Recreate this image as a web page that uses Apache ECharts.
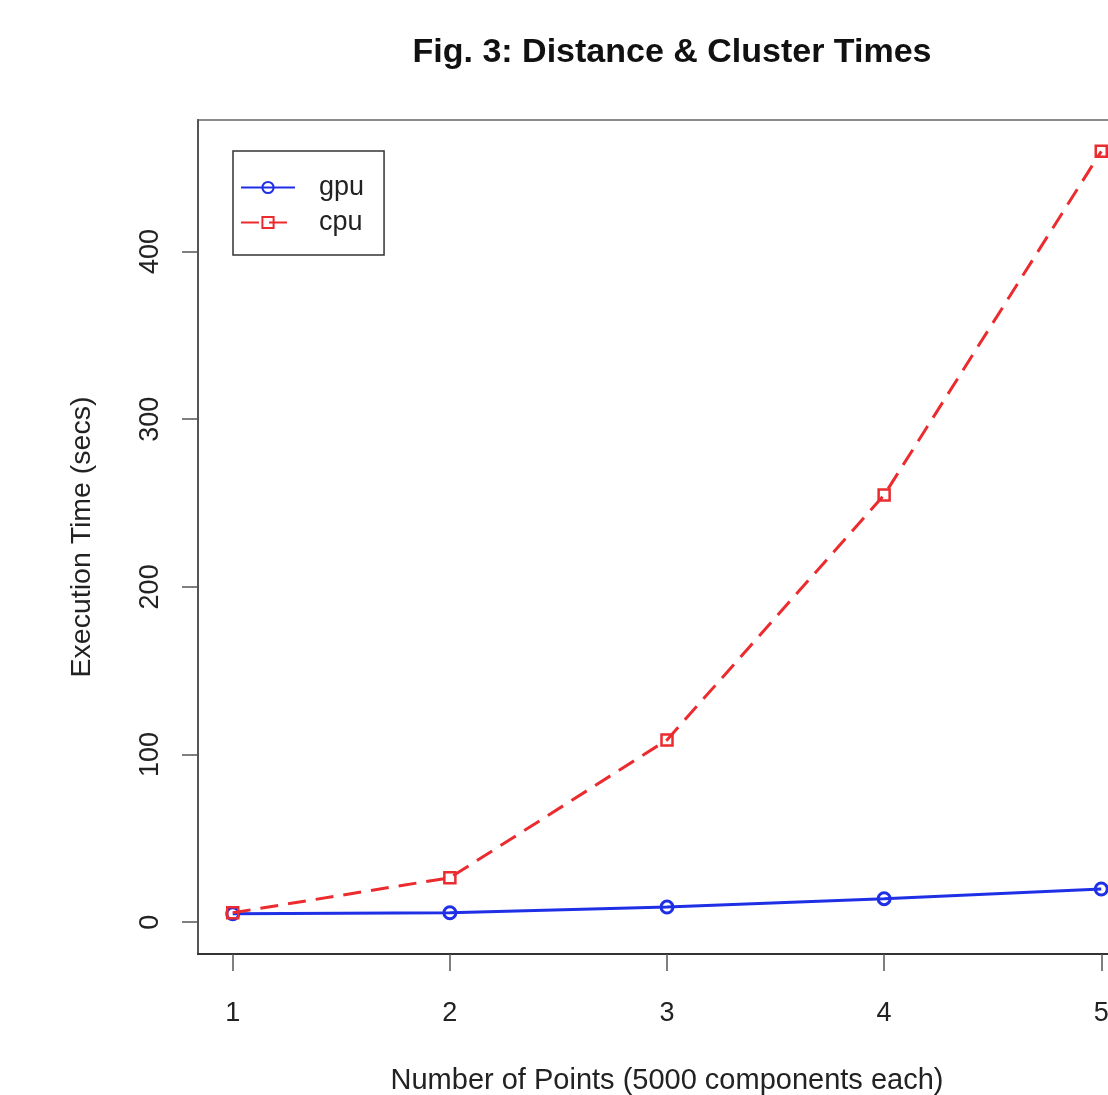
<!DOCTYPE html>
<html>
<head>
<meta charset="utf-8">
<title>Fig. 3: Distance & Cluster Times</title>
<script src="https://cdn.jsdelivr.net/npm/echarts@6/dist/echarts.min.js"></script>
<style>
  html, body { margin: 0; padding: 0; background: #fff; }
  #chart { width: 1108px; height: 1095px; }
</style>
</head>
<body>
<div id="chart"></div>
<script>
// data
var xPoints = [1, 2, 3, 4, 5];
var gpuTimes = [5.0, 5.6, 9.0, 14.0, 19.8];
var cpuTimes = [5.6, 26.5, 108.7, 254.8, 459.8];
var xTicks = [1, 2, 3, 4, 5];
var yTicks = [0, 100, 200, 300, 400];

var FONT = '"Liberation Sans", Arial, Helvetica, sans-serif';
var BLUE = '#1f2fe6';
var RED = '#ec2b2f';

function pairs(xs, ys) {
  return xs.map(function (x, i) { return [x, ys[i]]; });
}

var chart = echarts.init(document.getElementById('chart'));
var option = {
  backgroundColor: '#fff',
  animation: false,
  title: {
    text: 'Fig. 3: Distance & Cluster Times',
    left: 667,
    top: 31,
    textAlign: 'center',
    textStyle: { fontFamily: FONT, fontSize: 34, fontWeight: 'bold', color: '#111' }
  },
  legend: {
    orient: 'vertical',
    left: 233,
    top: 151,
    padding: [23, 20, 19, 7],
    borderColor: '#333',
    borderWidth: 1.5,
    itemWidth: 54,
    itemHeight: 14,
    itemGap: 8,
    textStyle: { fontFamily: FONT, fontSize: 27, color: '#222', lineHeight: 27, padding: [0, 0, 0, 19] },
    data: ['gpu', 'cpu']
  },
  grid: {
    left: 198,
    top: 120,
    width: 938,
    height: 834,
    outerBoundsMode: 'none',
    show: true,
    borderColor: '#8a8a8a',
    borderWidth: 2
  },
  xAxis: {
    type: 'value',
    min: 0.84,
    max: 5.16,
    name: 'Number of Points (5000 components each)',
    nameLocation: 'middle',
    nameGap: 112,
    nameTextStyle: { fontFamily: FONT, fontSize: 29, color: '#222' },
    axisLine: { onZero: false, lineStyle: { color: '#333', width: 2 } },
    axisTick: { customValues: xTicks, length: 17, lineStyle: { color: '#555', width: 1.5 } },
    axisLabel: { customValues: xTicks, margin: 46, fontFamily: FONT, fontSize: 27, color: '#222' },
    splitLine: { show: false }
  },
  yAxis: {
    type: 'value',
    min: -19,
    max: 478.5,
    name: 'Execution Time (secs)',
    nameLocation: 'middle',
    nameRotate: 90,
    nameGap: 101,
    nameTextStyle: { fontFamily: FONT, fontSize: 28.5, color: '#222' },
    axisLine: { onZero: false, lineStyle: { color: '#555', width: 2 } },
    axisTick: { customValues: yTicks, length: 16, lineStyle: { color: '#555', width: 1.5 } },
    axisLabel: { customValues: yTicks, rotate: 90, margin: 34, fontFamily: FONT, fontSize: 27, color: '#222' },
    splitLine: { show: false }
  },
  series: [
    {
      name: 'gpu',
      type: 'line',
      data: pairs(xPoints, gpuTimes),
      symbol: 'circle',
      symbolSize: 12,
      lineStyle: { color: BLUE, width: 3 },
      itemStyle: { color: 'rgba(255,255,255,0)', borderColor: BLUE, borderWidth: 3 },
      z: 2
    },
    {
      name: 'cpu',
      type: 'line',
      data: pairs(xPoints, cpuTimes),
      symbol: 'rect',
      symbolSize: 11,
      lineStyle: { color: RED, width: 3, type: [18, 10] },
      itemStyle: { color: 'rgba(255,255,255,0)', borderColor: RED, borderWidth: 2.5 },
      z: 3
    }
  ]
};
chart.setOption(option);
</script>
</body>
</html>
